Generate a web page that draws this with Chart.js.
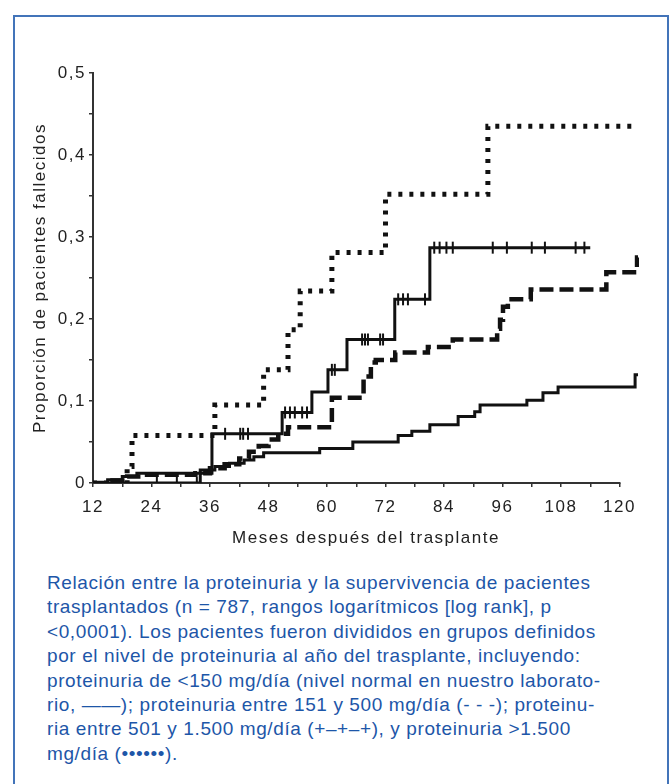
<!DOCTYPE html>
<html>
<head>
<meta charset="utf-8">
<script src="https://cdn.jsdelivr.net/npm/chart.js@4/dist/chart.umd.min.js"></script>
<style>
html,body{margin:0;padding:0;background:#fff;width:672px;height:784px;overflow:hidden;}
#frame{position:absolute;left:13px;top:15px;width:656px;height:800px;border:2px solid #4374b9;box-sizing:border-box;}
#wrap{position:absolute;left:0;top:0;width:672px;height:560px;}
#caption{position:absolute;left:47px;top:571px;font-family:"Liberation Sans",Arial,sans-serif;font-size:19px;letter-spacing:0.6px;line-height:24.4px;color:#1d56a8;white-space:nowrap;}
</style>
</head>
<body>
<div id="frame"></div>
<div id="wrap"><canvas id="c" width="672" height="560"></canvas></div>
<div id="caption">Relación entre la proteinuria y la supervivencia de pacientes<br>trasplantados (n = 787, rangos logarítmicos [log rank], p<br>&lt;0,0001). Los pacientes fueron divididos en grupos definidos<br>por el nivel de proteinuria al año del trasplante, incluyendo:<br>proteinuria de &lt;150 mg/día (nivel normal en nuestro laborato-<br>rio, ——); proteinuria entre 151 y 500 mg/día (- - -); proteinu-<br>ria entre 501 y 1.500 mg/día (+–+–+), y proteinuria &gt;1.500<br>mg/día (••••••).</div>
<script>
// ---- Data (months after transplant, cumulative proportion of deceased patients) ----
// Proteinuria <150 mg/día (solid)
const normalMonths = [12, 15, 18, 21, 34, 37, 40, 43, 45, 47, 58.5, 65.3, 74.6, 77.4, 81.1, 86.9, 90.3, 91.4, 101.0, 104.3, 107.4, 123.2, 123.8];
const normalValues = [0, 0.004, 0.008, 0.012, 0.016, 0.020, 0.024, 0.028, 0.032, 0.037, 0.042, 0.050, 0.058, 0.063, 0.071, 0.081, 0.087, 0.095, 0.101, 0.110, 0.117, 0.132, 0.132];

// Proteinuria 151-500 mg/día (dashed)
const lowMonths = [12, 16, 19, 22, 33, 36, 39, 42, 44, 46, 48, 50, 52, 61, 67.5, 69, 70, 74, 80.7, 85.8, 94.9, 95.5, 96.1, 97.1, 101.8, 117.3, 123.6, 123.8];
const lowValues = [0, 0.003, 0.008, 0.010, 0.012, 0.018, 0.023, 0.030, 0.038, 0.045, 0.053, 0.060, 0.068, 0.104, 0.130, 0.147, 0.150, 0.159, 0.166, 0.175, 0.188, 0.199, 0.215, 0.224, 0.236, 0.257, 0.275, 0.275];

// Proteinuria 501-1.500 mg/día (solid with censoring marks)
const midMonths = [12, 34, 36.4, 50.8, 56.9, 60.2, 64.1, 73.9, 81.1, 114];
const midValues = [0, 0.012, 0.060, 0.086, 0.111, 0.138, 0.175, 0.224, 0.287, 0.287];
const midCensorMonths = [25.1, 29.2, 33.3, 39.1, 42.2, 42.8, 43.8, 51.4, 52.4, 53.4, 54.9, 55.9, 61.0, 61.6, 67.2, 67.8, 68.4, 70.9, 71.5, 74.6, 75.6, 76.6, 80.1, 82.0, 83.1, 84.5, 85.8, 94.0, 96.9, 102.0, 104.7, 111.0, 112.8];
const midCensorValues = [0, 0, 0, 0.060, 0.060, 0.060, 0.060, 0.086, 0.086, 0.086, 0.086, 0.086, 0.138, 0.138, 0.175, 0.175, 0.175, 0.175, 0.175, 0.224, 0.224, 0.224, 0.224, 0.287, 0.287, 0.287, 0.287, 0.287, 0.287, 0.287, 0.287, 0.287, 0.287];

// Proteinuria >1.500 mg/día (dotted)
const highMonths = [12, 19, 20, 37, 47, 52, 54.5, 61, 72, 93, 123.8];
const highValues = [0, 0.020, 0.058, 0.095, 0.138, 0.187, 0.234, 0.281, 0.352, 0.435, 0.435];

// Axis ticks
const xTickValues = [12, 18, 24, 30, 36, 42, 48, 54, 60, 66, 72, 78, 84, 90, 96, 102, 108, 114, 120];
const xTickLabels = ['12', '24', '36', '48', '60', '72', '84', '96', '108', '120'];
const yTickLabels = ['0', '0,1', '0,2', '0,3', '0,4', '0,5'];
const xTitle = 'Meses después del trasplante';
const yTitle = 'Proporción de pacientes fallecidos';

const toXY = (xs, ys) => xs.map((x, i) => ({x: x, y: ys[i]}));
const INK = '#111';

Chart.defaults.font.family = '"Liberation Sans", Arial, sans-serif';
Chart.defaults.font.size = 17;
Chart.defaults.color = '#222';

const axisPlugin = {
  id: 'axisPlugin',
  beforeDraw(chart) { chart.ctx.letterSpacing = '1.5px'; },
  beforeDatasetsDraw(chart) {
    const xs = chart.scales.x, ys = chart.scales.y, ctx = chart.ctx;
    ctx.save();
    ctx.strokeStyle = '#333';
    ctx.lineWidth = 2;
    ctx.beginPath();
    const y0 = ys.getPixelForValue(0);
    ctx.moveTo(xs.getPixelForValue(xTickValues[0]) - 1, y0);
    ctx.lineTo(xs.getPixelForValue(xTickValues[xTickValues.length - 1]) + 1, y0);
    ctx.stroke();
    ctx.restore();
  }
};

new Chart(document.getElementById('c'), {
  type: 'line',
  data: {
    datasets: [
      {label: '>1.500 mg/día', data: toXY(highMonths, highValues), stepped: 'before', borderColor: INK, borderWidth: 5, borderDash: [4, 7], borderCapStyle: 'butt', pointRadius: 0, fill: false},
      {label: '151-500 mg/día', data: toXY(lowMonths, lowValues), stepped: 'before', borderColor: INK, borderWidth: 4.5, borderDash: [14, 6], borderCapStyle: 'butt', pointRadius: 0, fill: false},
      {label: '501-1.500 mg/día', data: toXY(midMonths, midValues), stepped: 'before', borderColor: INK, borderWidth: 3, pointRadius: 0, fill: false},
      {label: 'censura', data: toXY(midCensorMonths, midCensorValues), showLine: false, pointStyle: 'line', rotation: 90, pointRadius: 6, pointBorderWidth: 2, pointBorderColor: INK, borderColor: INK, pointHoverRadius: 6},
      {label: '<150 mg/día', data: toXY(normalMonths, normalValues), stepped: 'before', borderColor: INK, borderWidth: 3, pointRadius: 0, fill: false}
    ]
  },
  options: {
    responsive: false,
    animation: false,
    devicePixelRatio: 1,
    layout: {padding: {left: 0, right: 33, top: 73, bottom: 0}},
    plugins: {legend: {display: false}, tooltip: {enabled: false}},
    events: [],
    scales: {
      x: {
        type: 'linear', min: 12, max: 124,
        afterFit(s) { s.height = 77; },
        afterBuildTicks(s) { s.ticks = xTickValues.map(v => ({value: v})); },
        ticks: {
          padding: 10, maxRotation: 0, autoSkip: false, color: '#222',
          callback(v) { const k = Math.round(v); return (k % 12 === 0) ? xTickLabels[(k - 12) / 12] : ''; }
        },
        grid: {drawOnChartArea: false, drawTicks: true, tickLength: 4, color: '#333', lineWidth: 1.5},
        border: {display: false},
        title: {display: true, text: xTitle, color: '#222', font: {size: 17}, padding: {top: 0, bottom: 11}}
      },
      y: {
        type: 'linear', min: 0, max: 0.5,
        afterFit(s) { s.width = 93; },
        ticks: {
          stepSize: 0.05, padding: 3, color: '#222',
          callback(v) { const r = Math.round(v * 100); return (r % 10 === 0) ? yTickLabels[r / 10] : ''; }
        },
        grid: {drawOnChartArea: false, drawTicks: true, tickLength: 4, color: '#333', lineWidth: 1.5},
        border: {display: true, color: '#333', width: 2},
        title: {display: true, text: yTitle, color: '#222', font: {size: 17}, padding: {top: 30, bottom: 0}}
      }
    }
  },
  plugins: [axisPlugin]
});
</script>
</body>
</html>
